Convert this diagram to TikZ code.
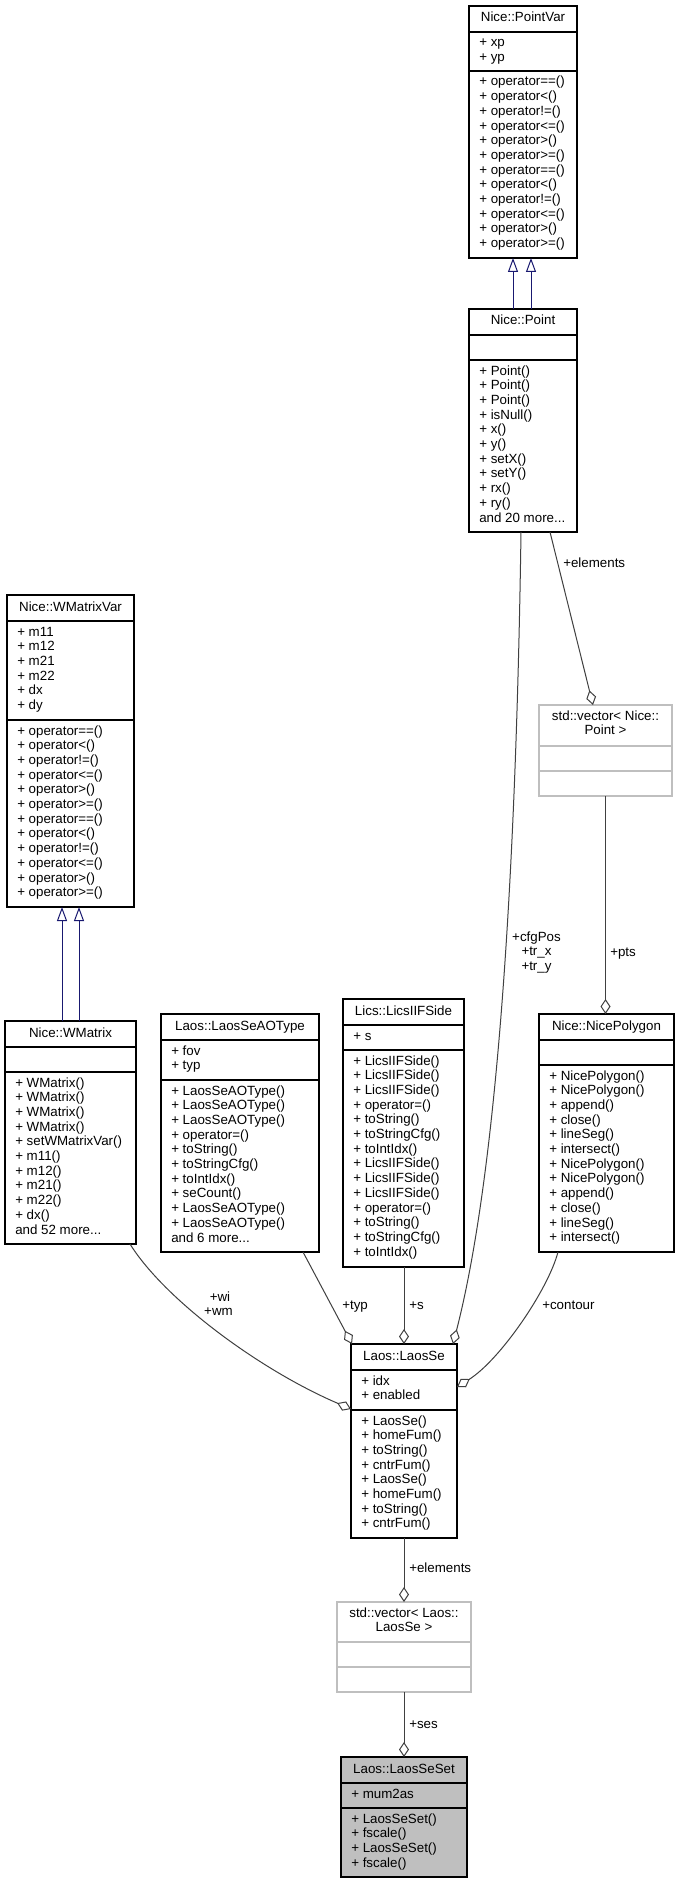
\documentclass[tikz,border=0pt]{standalone}
\usepackage{fontspec}
\setmainfont{Liberation Sans}
\usetikzlibrary{arrows.meta,calc}
\definecolor{edgegray}{HTML}{404040}
\definecolor{inhblue}{HTML}{191970}
\definecolor{lgray}{HTML}{BFBFBF}
\newcommand\mdots{...}
\tikzset{
  every node/.style={font=\fontsize{10}{11}\selectfont},
  boxst/.style={draw=black, line width=0.9pt, inner sep=0pt, outer sep=0pt},
  vecbox/.style={draw=lgray, line width=0.9pt, inner sep=0pt, outer sep=0pt},
  setbox/.style={draw=black, fill=lgray, line width=0.9pt, inner sep=0pt, outer sep=0pt},
  sepline/.style={draw=black, line width=0.9pt},
  vsepline/.style={draw=lgray, line width=0.9pt},
  mem/.style={anchor=base west, inner sep=0pt},
  ttl/.style={anchor=base, inner sep=0pt},
  lbl/.style={anchor=base west, inner sep=0pt},
  clbl/.style={anchor=base, inner sep=0pt},
  agg/.style={draw=edgegray, line width=0.75pt, -{Diamond[open, length=11.25pt, width=7.5pt]}},
  inh/.style={draw=inhblue, line width=0.75pt, -{Triangle[open, length=10.5pt, width=7.5pt]}},
}
\newcommand\cbox[6]{\node[#2, anchor=north west, minimum width={(#5-#3)*0.75pt}, minimum height={(#6-#4)*0.75pt}] (#1) at (#3,#4) {};}
\newcommand\sepl[4]{\draw[#4] (#1,#3) -- (#2,#3);}
\newcommand\mlist[4]{\foreach \txt [count=\k from 0] in {#4} {\node[mem] (#1\k) at (#2,{#3+\k*14.7}) {\txt};}}
\begin{document}
\begin{tikzpicture}[x=0.75pt,y=-0.75pt]
\fill[white] (0,0) rectangle (679,1883);
\useasboundingbox (0,0) rectangle (679,1883);

% Nice::PointVar
\cbox{PointVar}{boxst}{469}{6}{577}{258}
\sepl{469}{577}{32}{sepline}
\sepl{469}{577}{71}{sepline}
\node[ttl] (PointVar-t) at (523,22) {Nice::PointVar};
\mlist{PointVarA}{479}{47}{+ xp,+ yp}
\mlist{PointVarM}{479}{86}{+ operator==(),+ operator<(),+ operator!=(),+ operator<=(),+ operator>(),+ operator>=(),+ operator==(),+ operator<(),+ operator!=(),+ operator<=(),+ operator>(),+ operator>=()}

% Nice::Point
\cbox{Point}{boxst}{469}{309}{577}{532}
\sepl{469}{577}{335}{sepline}
\sepl{469}{577}{360}{sepline}
\node[ttl] (Point-t) at (523,325) {Nice::Point};
\mlist{PointM}{479}{375}{+ Point(),+ Point(),+ Point(),+ isNull(),+ x(),+ y(),+ setX(),+ setY(),+ rx(),+ ry(),and 20 more\mdots}

% Nice::WMatrixVar
\cbox{WMatrixVar}{boxst}{7}{595}{134}{907}
\sepl{7}{134}{621}{sepline}
\sepl{7}{134}{720}{sepline}
\node[ttl] (WMatrixVar-t) at (70.5,611) {Nice::WMatrixVar};
\mlist{WMatrixVarA}{17}{636}{+ m11,+ m12,+ m21,+ m22,+ dx,+ dy}
\mlist{WMatrixVarM}{17}{735}{+ operator==(),+ operator<(),+ operator!=(),+ operator<=(),+ operator>(),+ operator>=(),+ operator==(),+ operator<(),+ operator!=(),+ operator<=(),+ operator>(),+ operator>=()}

% Nice::WMatrix
\cbox{WMatrix}{boxst}{5}{1021}{136}{1244}
\sepl{5}{136}{1047}{sepline}
\sepl{5}{136}{1072}{sepline}
\node[ttl] (WMatrix-t) at (70.5,1037) {Nice::WMatrix};
\mlist{WMatrixM}{15}{1087}{+ WMatrix(),+ WMatrix(),+ WMatrix(),+ WMatrix(),+ setWMatrixVar(),+ m11(),+ m12(),+ m21(),+ m22(),+ dx(),and 52 more\mdots}

% Laos::LaosSeAOType
\cbox{AOType}{boxst}{161}{1014}{319}{1252}
\sepl{161}{319}{1040}{sepline}
\sepl{161}{319}{1080}{sepline}
\node[ttl] (AOType-t) at (240,1030) {Laos::LaosSeAOType};
\mlist{AOTypeA}{171}{1055}{+ fov,+ typ}
\mlist{AOTypeM}{171}{1095}{+ LaosSeAOType(),+ LaosSeAOType(),+ LaosSeAOType(),+ operator=(),+ toString(),+ toStringCfg(),+ toIntIdx(),+ seCount(),+ LaosSeAOType(),+ LaosSeAOType(),and 6 more\mdots}

% Lics::LicsIIFSide
\cbox{Lics}{boxst}{343}{999}{464}{1267}
\sepl{343}{464}{1025}{sepline}
\sepl{343}{464}{1050}{sepline}
\node[ttl] (Lics-t) at (403.5,1015) {Lics::LicsIIFSide};
\mlist{LicsA}{353}{1040}{+ s}
\mlist{LicsM}{353}{1065}{+ LicsIIFSide(),+ LicsIIFSide(),+ LicsIIFSide(),+ operator=(),+ toString(),+ toStringCfg(),+ toIntIdx(),+ LicsIIFSide(),+ LicsIIFSide(),+ LicsIIFSide(),+ operator=(),+ toString(),+ toStringCfg(),+ toIntIdx()}

% Nice::NicePolygon
\cbox{NicePolygon}{boxst}{539}{1014}{674}{1252}
\sepl{539}{674}{1040}{sepline}
\sepl{539}{674}{1065}{sepline}
\node[ttl] (NicePolygon-t) at (606.5,1030) {Nice::NicePolygon};
\mlist{NicePolygonM}{549}{1080}{+ NicePolygon(),+ NicePolygon(),+ append(),+ close(),+ lineSeg(),+ intersect(),+ NicePolygon(),+ NicePolygon(),+ append(),+ close(),+ lineSeg(),+ intersect()}

% std::vector< Nice::Point >
\cbox{vecPoint}{vecbox}{539}{705}{672}{796}
\sepl{539}{672}{746}{vsepline}
\sepl{539}{672}{771}{vsepline}
\node[ttl] (vecPoint-t1) at (605.5,720) {std::vector< Nice::};
\node[ttl] (vecPoint-t2) at (605.5,734.7) {Point >};

% Laos::LaosSe
\cbox{LaosSe}{boxst}{351}{1344}{457}{1538}
\sepl{351}{457}{1370}{sepline}
\sepl{351}{457}{1410}{sepline}
\node[ttl] (LaosSe-t) at (404,1360) {Laos::LaosSe};
\mlist{LaosSeA}{361}{1385}{+ idx,+ enabled}
\mlist{LaosSeM}{361}{1425}{+ LaosSe(),+ homeFum(),+ toString(),+ cntrFum(),+ LaosSe(),+ homeFum(),+ toString(),+ cntrFum()}

% std::vector< Laos::LaosSe >
\cbox{vecLaosSe}{vecbox}{337}{1602}{471}{1692}
\sepl{337}{471}{1642}{vsepline}
\sepl{337}{471}{1667}{vsepline}
\node[ttl] (vecLaosSe-t1) at (404,1617) {std::vector< Laos::};
\node[ttl] (vecLaosSe-t2) at (404,1631.7) {LaosSe >};

% Laos::LaosSeSet
\cbox{LaosSeSet}{setbox}{341}{1757}{467}{1877}
\sepl{341}{467}{1783}{sepline}
\sepl{341}{467}{1808}{sepline}
\node[ttl] (LaosSeSet-t) at (404,1773) {Laos::LaosSeSet};
\mlist{LaosSeSetA}{351}{1798}{+ mum2as}
\mlist{LaosSeSetM}{351}{1823}{+ LaosSeSet(),+ fscale(),+ LaosSeSet(),+ fscale()}

% inheritance
\draw[inh] ($(Point.north)+(-10,0)$) -- ($(PointVar.south)+(-10,0)$);
\draw[inh] ($(Point.north)+(8,0)$) -- ($(PointVar.south)+(8,0)$);
\draw[inh] ($(WMatrix.north)+(-8.5,0)$) -- ($(WMatrixVar.south)+(-8.5,0)$);
\draw[inh] ($(WMatrix.north)+(8.5,0)$) -- ($(WMatrixVar.south)+(8.5,0)$);

% aggregation
\draw[agg] ($(Point.south)+(27,0)$) -- ($(vecPoint.north)+(-12.5,0)$);
\node[lbl] (lElements1) at (563,567) {+elements};
\draw[agg] (vecPoint.south) -- ($(NicePolygon.north)+(-1,0)$);
\node[lbl] (lPts) at (610,956) {+pts};
\draw[agg] ($(Point.south)+(-2,0)$) .. controls (515,950) and (490,1200) .. ($(LaosSe.north east)+(-4,0)$);
\node[clbl] (lCfg1) at (536.5,941) {+cfgPos};
\node[clbl] (lCfg2) at (536.5,955.7) {+tr\_x};
\node[clbl] (lCfg3) at (536.5,970.4) {+tr\_y};
\draw[agg] ($(WMatrix.south east)+(-6,0)$) .. controls (165,1300) and (260,1370) .. ($(LaosSe.north west)+(0,65)$);
\node[clbl] (lWi) at (220,1301) {+wi};
\node[clbl] (lWm) at (218.5,1315.7) {+wm};
\draw[agg] ($(AOType.south east)+(-16,0)$) -- ($(LaosSe.north west)+(1,0)$);
\node[lbl] (lTyp) at (342,1309) {+typ};
\draw[agg] (LaosSe.north |- Lics.south) -- (LaosSe.north);
\node[lbl] (lS) at (409,1309) {+s};
\draw[agg] ($(NicePolygon.south west)+(19,0)$) .. controls (548,1290) and (500,1360) .. ($(LaosSe.north east)+(0,43)$);
\node[lbl] (lContour) at (542,1309) {+contour};
\draw[agg] (LaosSe.south) -- (vecLaosSe.north);
\node[lbl] (lElements2) at (409,1572) {+elements};
\draw[agg] (vecLaosSe.south) -- (LaosSeSet.north);
\node[lbl] (lSes) at (409,1728) {+ses};
\end{tikzpicture}
\end{document}
